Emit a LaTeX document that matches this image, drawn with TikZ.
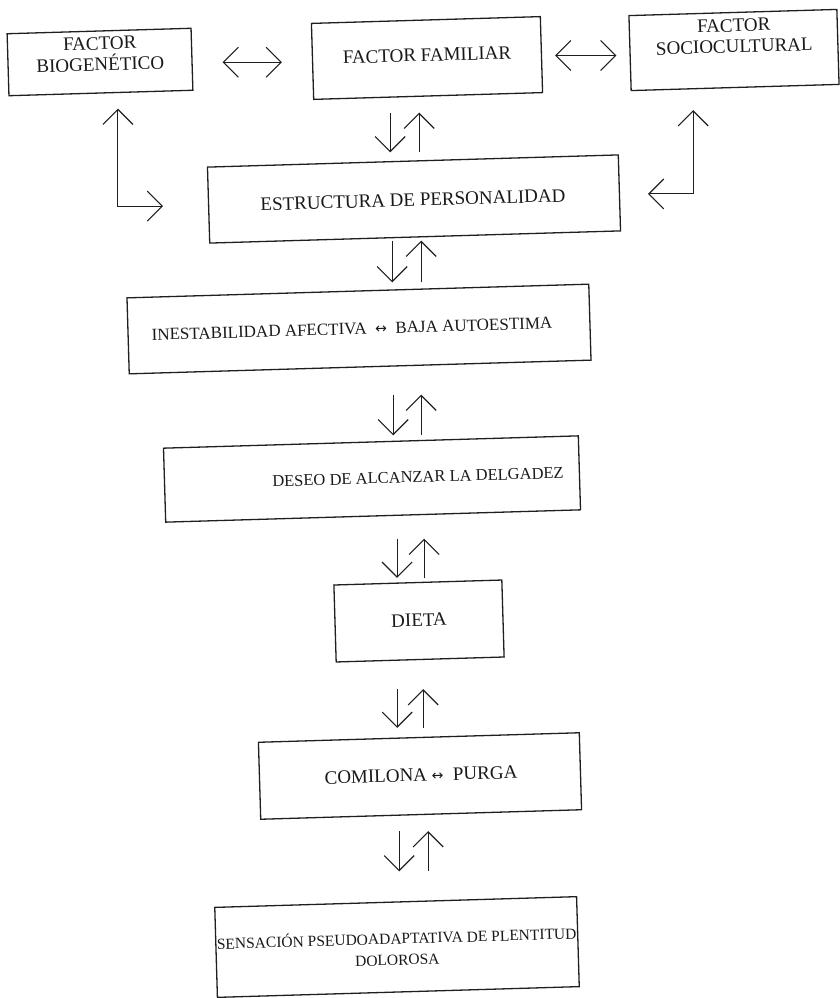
\documentclass[tikz,border=0pt]{standalone}
\usepackage{fontspec}
\setmainfont{Liberation Serif}
\newfontfamily\symfont{DejaVu Sans}
\usetikzlibrary{arrows.meta,calc}

% small double arrow used inside the labels
\newcommand{\lrarrow}{{\symfont\fontsize{14}{14}\selectfont ↔}}

\tikzset{
  ink/.style={draw=black!88},
  box/.style={ink, line width=1.3pt, inner sep=0pt, rotate=1.7},
  txt/.style={inner sep=0pt, align=center, rotate=1.7, text=black!90},
  big/.style={font=\fontsize{19}{21}\selectfont},
  mid/.style={font=\fontsize{17}{20}\selectfont},
  small/.style={font=\fontsize{15.5}{21}\selectfont},
  barb/.tip={Straight Barb[length=15pt,width=30pt]},
  arr/.style={ink, line width=1.1pt, -barb},
  dbl/.style={ink, line width=1.1pt, barb-barb},
}

% pair of opposite vertical arrows between an upper and a lower box
% #1 upper node, #2 lower node, #3/#4 x offsets of down/up arrow,
% #5 gap below upper box, #6 gap above lower box
\newcommand\vpair[6]{%
  \path (#1.south) ++(#3,#5) coordinate (#1#2d)
        (#1.south) ++(#4,#5) coordinate (#1#2u);
  \draw[arr] (#1#2d) -- ($(#1#2d |- #2.north)+(0,-#6)$);
  \draw[arr] ($(#1#2u |- #2.north)+(0,-#6)$) -- (#1#2u);
}

\begin{document}
\begin{tikzpicture}[x=1pt,y=-1pt]
\useasboundingbox (0,0) rectangle (839,998);

% boxes
\node[box, minimum width=184pt, minimum height=62pt] (bio) at (100,62) {};
\node[box, minimum width=229pt, minimum height=76pt] (fam) at (427,58) {};
\node[box, minimum width=208pt, minimum height=75pt] (soc) at (734,50) {};
\node[box, minimum width=411pt, minimum height=76pt] (est) at (414,199) {};
\node[box, minimum width=462pt, minimum height=76pt] (ine) at (359,329) {};
\node[box, minimum width=415pt, minimum height=74pt] (des) at (372,479) {};
\node[box, minimum width=168pt, minimum height=77pt] (die) at (419,621) {};
\node[box, minimum width=321pt, minimum height=77pt] (com) at (420,776) {};
\node[box, minimum width=362pt, minimum height=90pt] (sen) at (397,947) {};

% labels
\node[txt, big] (biot) at (100,54) {FACTOR\\BIOGENÉTICO};
\node[txt, big] (famt) at (427,55) {FACTOR FAMILIAR};
\node[txt, big] (soct) at (734,36) {FACTOR\\SOCIOCULTURAL};
\node[txt, big] (estt) at (413,200) {ESTRUCTURA DE PERSONALIDAD};
\node[txt, mid] (inet) at (352,329) {INESTABILIDAD AFECTIVA \ \lrarrow\ \ BAJA AUTOESTIMA};
\node[txt, font=\fontsize{16.5}{19}\selectfont] (dest) at (418,477) {DESEO DE ALCANZAR LA DELGADEZ};
\node[txt, big] (diet) at (419,620) {DIETA};
\node[txt, big] (comt) at (421,775) {COMILONA \lrarrow\ \ PURGA};
\node[txt, small] (sent) at (397,948) {SENSACIÓN PSEUDOADAPTATIVA DE PLENTITUD\\DOLOROSA};

% horizontal double arrows on the top row
\draw[dbl] ($(bio.east)+(30,3)$) -- ($(bio.east -| fam.west)+(-30,3)$);
\draw[dbl] ($(fam.east)+(13,1)$) -- ($(fam.east -| soc.west)+(-13,1)$);

% bent arrows from the side factors to the personality box
\path (bio.south) ++(17,15) coordinate (l1);
\path (est.west) ++(-45,1) coordinate (l3);
\draw[dbl] (l1) -- (l1 |- l3) -- (l3);

\path (soc.south) ++(-42,22) coordinate (r1);
\path (est.east) ++(28,1) coordinate (r3);
\draw[dbl] (r1) -- (r1 |- r3) -- (r3);

% vertical arrow pairs down the chain
\vpair{fam}{est}{-38}{-9}{16}{8}
\vpair{est}{ine}{-23}{6}{3}{8}
\vpair{ine}{des}{33}{61}{27}{6}
\vpair{des}{die}{24}{51}{22}{4}
\vpair{die}{com}{-23}{3}{29}{9}
\vpair{com}{sen}{-22}{7}{16}{30}

\end{tikzpicture}
\end{document}
